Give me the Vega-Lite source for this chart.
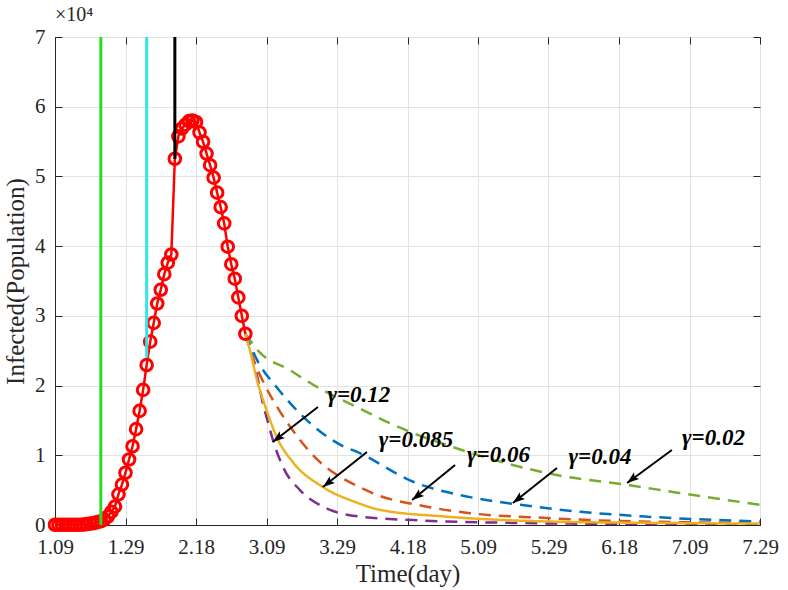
{
  "$schema": "https://vega.github.io/schema/vega-lite/v6.json",
  "width": 705,
  "height": 488,
  "autosize": {"type": "none"},
  "padding": {"left": 55, "top": 37, "right": 28, "bottom": 65},
  "background": "white",
  "title": {"text": "×10⁴", "anchor": "start", "frame": "group", "dx": 0, "offset": 1, "fontSize": 20, "font": "Liberation Serif", "fontWeight": "normal", "color": "#262626"},
  "config": {
    "view": {"stroke": "#262626", "strokeWidth": 1},
    "axis": {
      "labelFont": "Liberation Serif", "titleFont": "Liberation Serif",
      "labelFontSize": 21, "titleFontSize": 25, "titleFontWeight": "normal",
      "labelColor": "#262626", "titleColor": "#262626",
      "gridColor": "#e2e2e2", "gridWidth": 1, "labelFlush": false, "labelOverlap": false,
      "domainColor": "#262626", "tickColor": "#262626", "tickSize": -7, "tickWidth": 1
    }
  },
  "resolve": {"axis": {"x": "independent", "y": "independent"}},
  "datasets": {
    "obs": [
      {"day": 0, "v": 41}, {"day": 1, "v": 41}, {"day": 2, "v": 41}, {"day": 3, "v": 41}, {"day": 4, "v": 41},
      {"day": 5, "v": 41}, {"day": 6, "v": 41}, {"day": 7, "v": 45}, {"day": 8, "v": 62}, {"day": 9, "v": 121},
      {"day": 10, "v": 198}, {"day": 11, "v": 270}, {"day": 12, "v": 410}, {"day": 13, "v": 530}, {"day": 14, "v": 780},
      {"day": 15, "v": 1220}, {"day": 16, "v": 1880}, {"day": 17, "v": 2640}, {"day": 18, "v": 4400}, {"day": 19, "v": 5800},
      {"day": 20, "v": 7500}, {"day": 21, "v": 9400}, {"day": 22, "v": 11290}, {"day": 23, "v": 13750}, {"day": 24, "v": 16370},
      {"day": 25, "v": 19380}, {"day": 26, "v": 22940}, {"day": 27, "v": 26300}, {"day": 28, "v": 28990}, {"day": 29, "v": 31770},
      {"day": 30, "v": 33740}, {"day": 31, "v": 35980}, {"day": 32, "v": 37630}, {"day": 33, "v": 38800}, {"day": 34, "v": 52530},
      {"day": 35, "v": 55750}, {"day": 36, "v": 56870}, {"day": 37, "v": 57420}, {"day": 38, "v": 57930}, {"day": 39, "v": 58020},
      {"day": 40, "v": 57810}, {"day": 41, "v": 56300}, {"day": 42, "v": 54970}, {"day": 43, "v": 53280}, {"day": 44, "v": 51610},
      {"day": 45, "v": 49820}, {"day": 46, "v": 47670}, {"day": 47, "v": 45600}, {"day": 48, "v": 43260}, {"day": 49, "v": 39920},
      {"day": 50, "v": 37410}, {"day": 51, "v": 35330}, {"day": 52, "v": 32650}, {"day": 53, "v": 30000}, {"day": 54, "v": 27430}
    ],
    "gamma": [
      {"g": "0.12", "day": 54, "v": 27430}, {"g": "0.12", "day": 56.2, "v": 23700}, {"g": "0.12", "day": 57.6, "v": 20800},
      {"g": "0.12", "day": 59, "v": 17400}, {"g": "0.12", "day": 60, "v": 15500}, {"g": "0.12", "day": 62, "v": 11900},
      {"g": "0.12", "day": 64.7, "v": 8300}, {"g": "0.12", "day": 69.5, "v": 5000}, {"g": "0.12", "day": 77, "v": 2400},
      {"g": "0.12", "day": 86.5, "v": 1200}, {"g": "0.12", "day": 101.6, "v": 700}, {"g": "0.12", "day": 130, "v": 300},
      {"g": "0.12", "day": 160, "v": 150}, {"g": "0.12", "day": 200, "v": 80},
      {"g": "0.06", "day": 54, "v": 27430}, {"g": "0.06", "day": 56.5, "v": 23500}, {"g": "0.06", "day": 59.6, "v": 20000},
      {"g": "0.06", "day": 63.8, "v": 16300}, {"g": "0.06", "day": 69.5, "v": 12200}, {"g": "0.06", "day": 74.6, "v": 9300},
      {"g": "0.06", "day": 80.9, "v": 6900}, {"g": "0.06", "day": 87, "v": 5300}, {"g": "0.06", "day": 92, "v": 4200},
      {"g": "0.06", "day": 102.7, "v": 2900}, {"g": "0.06", "day": 117.7, "v": 1700}, {"g": "0.06", "day": 139.6, "v": 1000},
      {"g": "0.06", "day": 158, "v": 600}, {"g": "0.06", "day": 200, "v": 300},
      {"g": "0.04", "day": 54, "v": 27430}, {"g": "0.04", "day": 57.6, "v": 23400}, {"g": "0.04", "day": 63, "v": 19700},
      {"g": "0.04", "day": 71.5, "v": 15000}, {"g": "0.04", "day": 81, "v": 11500}, {"g": "0.04", "day": 86.5, "v": 10300},
      {"g": "0.04", "day": 101.6, "v": 6200}, {"g": "0.04", "day": 117.7, "v": 4000}, {"g": "0.04", "day": 132, "v": 2900},
      {"g": "0.04", "day": 149, "v": 1900}, {"g": "0.04", "day": 168, "v": 1200}, {"g": "0.04", "day": 200, "v": 500},
      {"g": "0.02", "day": 54, "v": 27430}, {"g": "0.02", "day": 58, "v": 24800}, {"g": "0.02", "day": 66.7, "v": 22200},
      {"g": "0.02", "day": 72.3, "v": 20400}, {"g": "0.02", "day": 88.5, "v": 16200}, {"g": "0.02", "day": 95, "v": 14600},
      {"g": "0.02", "day": 117, "v": 10500}, {"g": "0.02", "day": 142, "v": 7200}, {"g": "0.02", "day": 163, "v": 5700},
      {"g": "0.02", "day": 177, "v": 4600}, {"g": "0.02", "day": 200, "v": 2900},
      {"g": "0.085", "day": 54, "v": 27430}, {"g": "0.085", "day": 55.3, "v": 25100}, {"g": "0.085", "day": 57.3, "v": 20800},
      {"g": "0.085", "day": 60, "v": 16500}, {"g": "0.085", "day": 63, "v": 12500}, {"g": "0.085", "day": 67.5, "v": 9000},
      {"g": "0.085", "day": 76, "v": 5450}, {"g": "0.085", "day": 85.7, "v": 3200}, {"g": "0.085", "day": 92, "v": 2200},
      {"g": "0.085", "day": 111, "v": 1200}, {"g": "0.085", "day": 140, "v": 500}, {"g": "0.085", "day": 170, "v": 300},
      {"g": "0.085", "day": 200, "v": 200}
    ],
    "vlines": [
      {"event": "a", "day": 13, "top": 70000, "bottom": 0},
      {"event": "b", "day": 26, "top": 70000, "bottom": 24000},
      {"event": "c", "day": 34, "top": 70000, "bottom": 52500}
    ],
    "notes": [
      {"label": "γ=0.12", "tx": 86.2, "ty": 18650, "sx": 74.6, "sy": 16930, "ex": 61.8, "ey": 11900},
      {"label": "γ=0.085", "tx": 102.4, "ty": 12200, "sx": 88.5, "sy": 10470, "ex": 76.0, "ey": 5450},
      {"label": "γ=0.06", "tx": 125.8, "ty": 10040, "sx": 113.5, "sy": 8610, "ex": 101.3, "ey": 3590},
      {"label": "γ=0.04", "tx": 154.6, "ty": 9760, "sx": 142.4, "sy": 8180, "ex": 129.9, "ey": 3160},
      {"label": "γ=0.02", "tx": 186.8, "ty": 12480, "sx": 175.0, "sy": 10760, "ex": 162.3, "ey": 6030}
    ]
  },
  "layer": [
    {
      "data": {"name": "gamma"},
      "mark": {"type": "line", "strokeWidth": 2.5, "interpolate": "monotone", "clip": true},
      "encoding": {
        "x": {"field": "day", "type": "quantitative", "scale": {"domain": [0, 200], "nice": false},
          "axis": {"orient": "bottom", "values": [0, 20, 40, 60, 80, 100, 120, 140, 160, 180, 200], "title": "Time(day)", "labelExpr": "['1.09','1.29','2.18','3.09','3.29','4.18','5.09','5.29','6.18','7.09','7.29'][round(datum.value/20)]", "labelPadding": 18, "titlePadding": 4, "grid": true}},
        "y": {"field": "v", "type": "quantitative", "scale": {"domain": [0, 70000], "nice": false},
          "axis": {"orient": "left", "values": [0, 10000, 20000, 30000, 40000, 50000, 60000, 70000], "title": "Infected(Population)", "labelExpr": "datum.value/10000", "labelPadding": 17, "titlePadding": 6, "grid": true}},
        "color": {"field": "g", "type": "nominal", "legend": null,
          "scale": {"domain": ["0.12", "0.085", "0.06", "0.04", "0.02"], "range": ["#7E2F8E", "#EDB120", "#D95319", "#0072BD", "#77AC30"]}},
        "strokeDash": {"field": "g", "type": "nominal", "legend": null,
          "scale": {"domain": ["0.12", "0.085", "0.06", "0.04", "0.02"], "range": [[12, 8], [1, 0], [12, 8], [12, 8], [12, 8]]}},
        "order": {"field": "day", "type": "quantitative"}
      }
    },
    {
      "data": {"name": "obs"},
      "mark": {"type": "line", "color": "#ff0000", "strokeWidth": 2.5,
        "point": {"filled": false, "size": 135, "strokeWidth": 3, "color": "#ff0000"}},
      "encoding": {
        "x": {"field": "day", "type": "quantitative", "axis": null},
        "y": {"field": "v", "type": "quantitative", "axis": null}
      }
    },
    {
      "data": {"name": "vlines"},
      "mark": {"type": "rule", "strokeWidth": 3},
      "encoding": {
        "x": {"field": "day", "type": "quantitative", "axis": {"orient": "top", "labels": false, "title": null, "grid": false, "domain": false, "values": [0, 20, 40, 60, 80, 100, 120, 140, 160, 180, 200]}},
        "y": {"field": "top", "type": "quantitative", "axis": {"orient": "right", "labels": false, "title": null, "grid": false, "domain": false, "values": [0, 10000, 20000, 30000, 40000, 50000, 60000, 70000]}},
        "y2": {"field": "bottom"},
        "stroke": {"field": "event", "type": "nominal", "legend": null,
          "scale": {"domain": ["a", "b", "c"], "range": ["#22dd22", "#33e6e6", "#000000"]}}
      }
    },
    {
      "data": {"name": "notes"},
      "mark": {"type": "rule", "color": "#000000", "strokeWidth": 2},
      "encoding": {
        "x": {"field": "sx", "type": "quantitative", "axis": null},
        "y": {"field": "sy", "type": "quantitative", "axis": null},
        "x2": {"field": "ex"},
        "y2": {"field": "ey"}
      }
    },
    {
      "data": {"name": "notes"},
      "mark": {"type": "point", "shape": "M0,0L-0.7,2L0,1.6L0.7,2Z", "filled": true, "color": "#000000", "size": 144, "angle": 232, "opacity": 1},
      "encoding": {
        "x": {"field": "ex", "type": "quantitative", "axis": null},
        "y": {"field": "ey", "type": "quantitative", "axis": null}
      }
    },
    {
      "data": {"name": "notes"},
      "mark": {"type": "text", "font": "Liberation Serif", "fontSize": 23, "fontWeight": "bold", "fontStyle": "italic", "align": "center", "baseline": "middle", "color": "#000000"},
      "encoding": {
        "x": {"field": "tx", "type": "quantitative", "axis": null},
        "y": {"field": "ty", "type": "quantitative", "axis": null},
        "text": {"field": "label"}
      }
    }
  ]
}
